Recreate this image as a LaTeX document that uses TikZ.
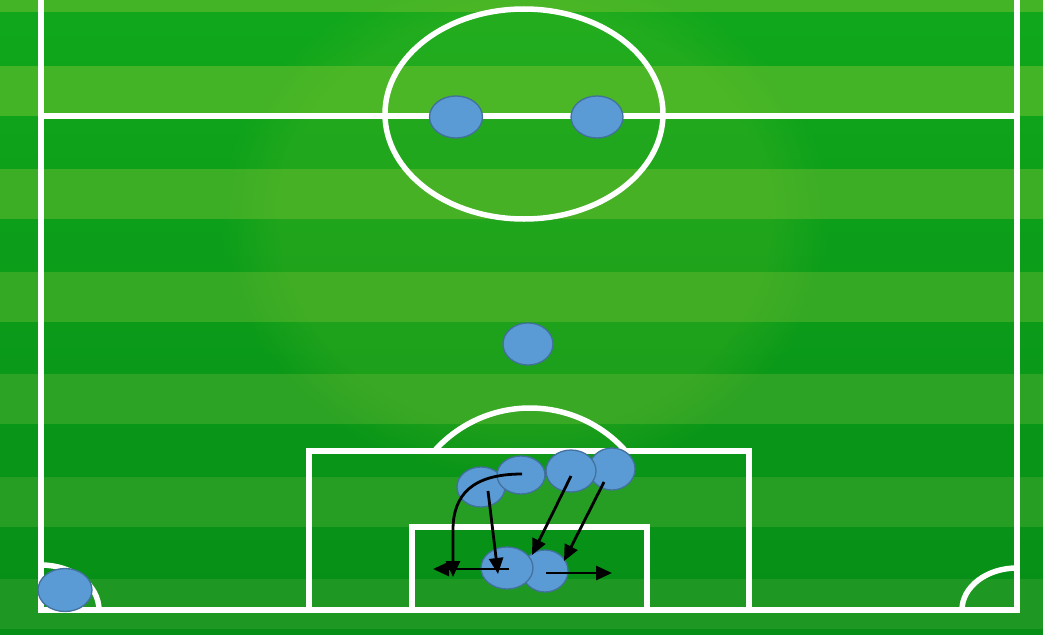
\documentclass[tikz,border=0pt]{standalone}
\usetikzlibrary{arrows.meta,shapes.geometric,fadings}
\definecolor{Ltop}{RGB}{66,180,38}
\definecolor{Lbot}{RGB}{30,152,34}
\definecolor{Dtop}{RGB}{16,168,28}
\definecolor{Dbot}{RGB}{6,142,22}
\definecolor{pfill}{RGB}{91,155,213}
\definecolor{pdraw}{RGB}{65,113,156}
\definecolor{glow}{RGB}{120,195,40}
\begin{document}
\begin{tikzpicture}[x=1pt,y=-1pt,
  pitchline/.style={draw=white, line width=5.5pt},
  player/.style={ellipse, draw=pdraw, fill=pfill, line width=1.3pt, inner sep=0pt, minimum width=52pt, minimum height=42pt},
  move/.style={draw=black, line width=2.8pt, -{Triangle[length=16pt,width=14pt]}}]
\useasboundingbox (0,0) rectangle (1043,634);
% grass
\shade[top color=Dtop, bottom color=Dbot] (0,0) rectangle (1043,634);
\fill[Ltop] (0,0) rectangle (1043,12);
\foreach \y/\p in {66/100,169/80,272/60,374/40,477/20,579/0}
  \fill[Ltop!\p!Lbot] (0,\y) rectangle (1043,\y+50);
\fill[glow, opacity=0.18, path fading=circle with fuzzy edge 20 percent] (220,-40) rectangle (830,480);
% lines
\draw[pitchline] (41,0) -- (41,610) -- (1017,610) -- (1017,0);
\draw[pitchline] (41,116) -- (1017,116);
\draw[pitchline] (524,114) ellipse [x radius=139, y radius=105];
\draw[pitchline] (530,536) ++(-138.4:128) arc[start angle=-138.4, end angle=-41.6, radius=128];
\draw[pitchline] (309,610) -- (309,451) -- (749,451) -- (749,610);
\draw[pitchline] (412,610) -- (412,527) -- (647,527) -- (647,610);
\draw[pitchline] (99,610) arc[start angle=0, end angle=-90, x radius=58, y radius=45];
\draw[pitchline] (962,610) arc[start angle=180, end angle=270, x radius=55, y radius=42];
% players
\node[player, minimum width=53pt] (p1) at (456,117) {};
\node[player] (p2) at (597,117) {};
\node[player, minimum width=50pt] (p3) at (528,344) {};
\node[player, minimum width=54pt, minimum height=43pt] (gk) at (65,590) {};
\node[player, minimum width=48pt, minimum height=40pt] (pa) at (481,487) {};
\node[player, minimum width=48pt, minimum height=38pt] (pb) at (521,475) {};
\node[player, minimum width=46pt] (pd) at (612,469) {};
\node[player, minimum width=50pt] (pc) at (571,471) {};
\node[player, minimum width=46pt] (pf) at (545,571) {};
\node[player] (pe) at (507,568) {};
% arrow ends
\coordinate (cs) at (522,474);
\coordinate (ce) at (453,577);
\coordinate (hs) at (509,569);
\coordinate (he) at (433,569);
\coordinate (as) at (488,491);
\coordinate (ae) at (498,574);
\coordinate (bs) at (571,476);
\coordinate (be) at (532,555);
\coordinate (ds) at (604,482);
\coordinate (de) at (564,561);
\coordinate (fs) at (546,573);
\coordinate (fe) at (612,573);
% moves
\draw[move] (cs) .. controls (472,474) and (453,495) .. (453,530) -- (ce);
\draw[move] (hs) -- (he);
\draw[move] (as) -- (ae);
\draw[move] (bs) -- (be);
\draw[move] (ds) -- (de);
\draw[move] (fs) -- (fe);
\end{tikzpicture}
\end{document}
